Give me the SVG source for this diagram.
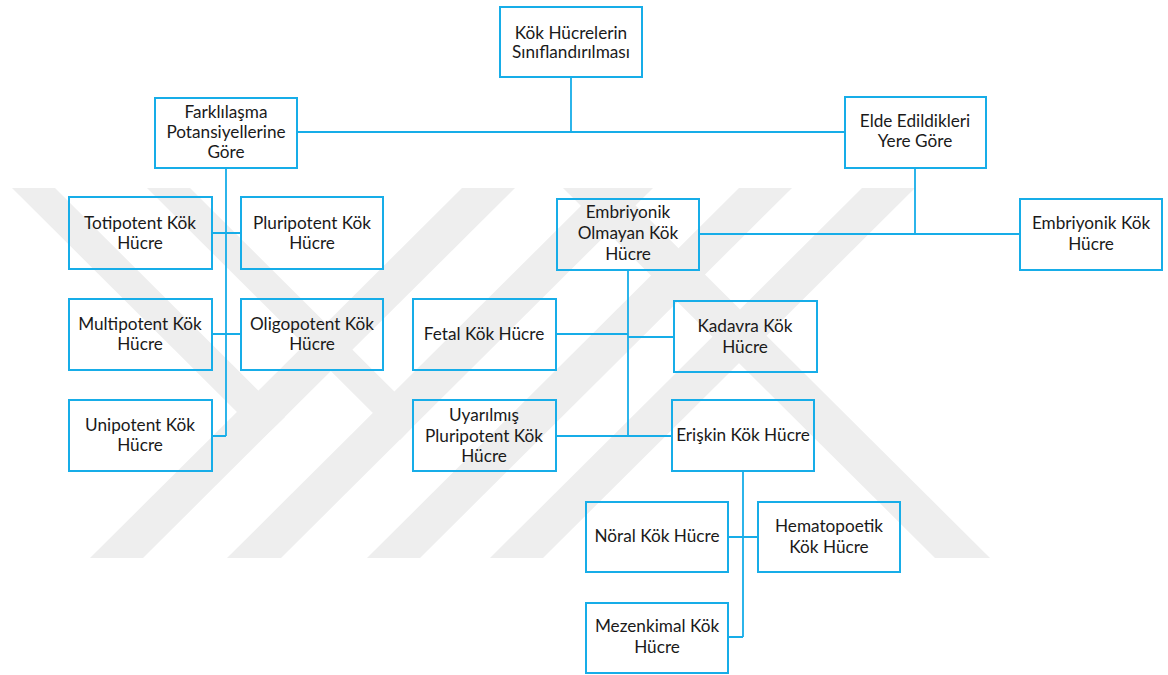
<svg xmlns="http://www.w3.org/2000/svg" width="1168" height="675" viewBox="0 0 1168 675">
<style>
.box{fill:none;stroke:#17ade8;stroke-width:2}
.ln{fill:none;stroke:#17ade8;stroke-width:1.8}
.wm{fill:#eeeeee}
text{font-family:Lato,"Liberation Sans",sans-serif;font-size:17.2px;fill:#1a1a1a;text-anchor:middle}
</style>
<rect width="1168" height="675" fill="#ffffff"/>
<g id="watermark">
<polygon class="wm" points="12,188 55,188 285,417 263,438"/>
<polygon class="wm" points="147,188 190,188 421,418 400,440"/>
<polygon class="wm" points="90,558 143,558 515,188 462,188"/>
<polygon class="wm" points="227,558 281,558 653,188 599,188"/>
<polygon class="wm" points="367,558 420,558 792,188 739,188"/>
<polygon class="wm" points="490,558 543,558 915,188 862,188"/>
<polygon class="wm" points="563,188 618,188 990,558 935,558"/>
</g>
<g id="connectors">
<path class="ln" d="M571,77V132M297,132H845"/>
<path class="ln" d="M226,168V436M212,233H241M212,334H241M212,436H226"/>
<path class="ln" d="M915,168V234M699,234H1020"/>
<path class="ln" d="M628,270V436M556,334H628M628,337H674M556,436H672"/>
<path class="ln" d="M743,471V637M728,537H758M728,637H743"/>
</g>
<g id="root"><rect class="box" x="500" y="7" width="142" height="70"/><text x="571" y="39">Kök Hücrelerin</text><text x="571" y="58">Sınıflandırılması</text></g>
<g id="farklilasma"><rect class="box" x="155" y="98" width="142" height="70"/><text x="226" y="118">Farklılaşma</text><text x="226" y="138">Potansiyellerine</text><text x="226" y="158">Göre</text></g>
<g id="elde"><rect class="box" x="845" y="97" width="141" height="71"/><text x="915" y="127">Elde Edildikleri</text><text x="915" y="147">Yere Göre</text></g>
<g id="totipotent"><rect class="box" x="69" y="197" width="143" height="72"/><text x="140" y="229">Totipotent Kök</text><text x="140" y="249">Hücre</text></g>
<g id="pluripotent"><rect class="box" x="241" y="197" width="142" height="72"/><text x="312" y="229">Pluripotent Kök</text><text x="312" y="249">Hücre</text></g>
<g id="multipotent"><rect class="box" x="69" y="299" width="143" height="71"/><text x="140" y="330">Multipotent Kök</text><text x="140" y="350">Hücre</text></g>
<g id="oligopotent"><rect class="box" x="241" y="299" width="142" height="71"/><text x="312" y="330">Oligopotent Kök</text><text x="312" y="350">Hücre</text></g>
<g id="unipotent"><rect class="box" x="69" y="400" width="143" height="71"/><text x="140" y="431">Unipotent Kök</text><text x="140" y="451">Hücre</text></g>
<g id="embriyonik-olmayan"><rect class="box" x="557" y="199" width="142" height="71"/><text x="628" y="218">Embriyonik</text><text x="628" y="239">Olmayan Kök</text><text x="628" y="260">Hücre</text></g>
<g id="embriyonik"><rect class="box" x="1020" y="199" width="142" height="71"/><text x="1091" y="229">Embriyonik Kök</text><text x="1091" y="250">Hücre</text></g>
<g id="fetal"><rect class="box" x="413" y="299" width="143" height="71"/><text x="484" y="340">Fetal Kök Hücre</text></g>
<g id="kadavra"><rect class="box" x="674" y="301" width="143" height="71"/><text x="745" y="332">Kadavra Kök</text><text x="745" y="353">Hücre</text></g>
<g id="uyarilmis"><rect class="box" x="413" y="400" width="143" height="71"/><text x="484" y="421">Uyarılmış</text><text x="484" y="442">Pluripotent Kök</text><text x="484" y="462">Hücre</text></g>
<g id="eriskin"><rect class="box" x="672" y="400" width="142" height="71"/><text x="743" y="441">Erişkin Kök Hücre</text></g>
<g id="noral"><rect class="box" x="586" y="502" width="142" height="70"/><text x="657" y="542">Nöral Kök Hücre</text></g>
<g id="hematopoetik"><rect class="box" x="758" y="502" width="142" height="70"/><text x="829" y="532">Hematopoetik</text><text x="829" y="553">Kök Hücre</text></g>
<g id="mezenkimal"><rect class="box" x="586" y="603" width="142" height="70"/><text x="657" y="632">Mezenkimal Kök</text><text x="657" y="653">Hücre</text></g>
</svg>
